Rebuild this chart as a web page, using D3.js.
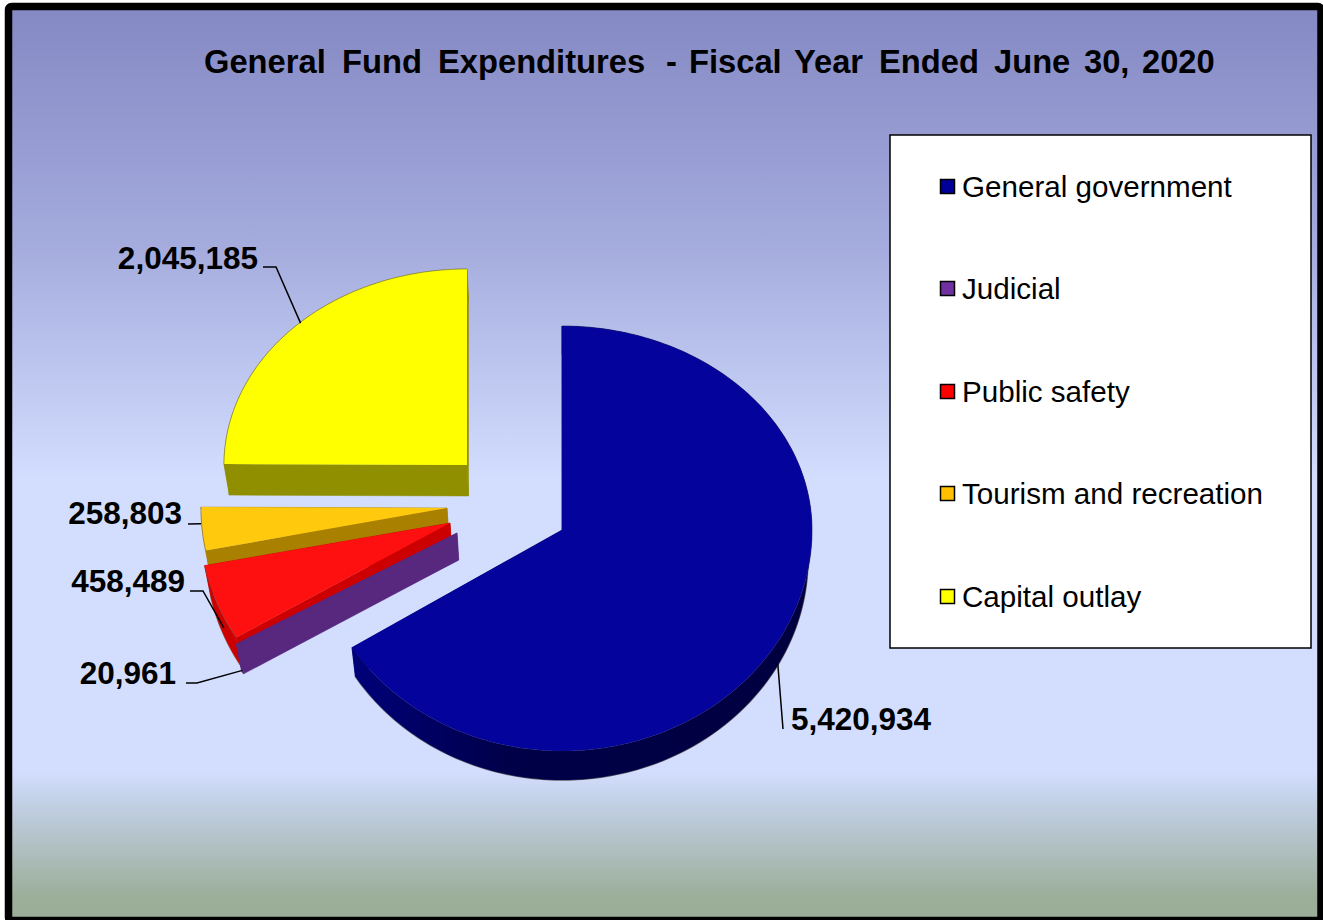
<!DOCTYPE html>
<html><head><meta charset="utf-8">
<script src="https://cdn.jsdelivr.net/npm/d3@7/dist/d3.min.js"></script>
<style>html,body{margin:0;padding:0;background:#fff;overflow:hidden}svg{display:block}text{font-family:"Liberation Sans",Arial,sans-serif;fill:#000}</style>
</head><body><svg id="c" width="1323" height="920"></svg>
<script>
// ---- data ----
const categories = ["General government","Judicial","Public safety","Tourism and recreation","Capital outlay"];
const values = [5420934,20961,458489,258803,2045185];
const titleWords = ["General","Fund","Expenditures","-","Fiscal","Year","Ended","June","30,","2020"];
// ---- styles ----
const topColors = ["#04049c","#57277f","#ff1010","#ffc90e","#ffff00"];
const sideColors = ["url(#sideBlue)","#58287f","#cc0000","#a98000","#8f8f00"];
const swatchColors = ["#000099","#7030a0","#ff0000","#ffc000","#ffff00"];
// ---- layout: exploded apex and radii of each slice ----
const titleX = [204,342,438,666,689,794,879,994,1084,1142];
const apexX = [562,457,450,447,467];
const apexY = [530,533,523,508,465];
const radX  = [248,258,250,246,243];
const radXRight = 250;
const radFar = [204,204,204,204,196];
const radNear = [221,214,221,221,221];
const depth = [29,27,29,29,31];
const vanishX = 562, vanishK = 0.016;
const drawOrder = [4,3,2,1,0];
const legendY = [187,289,392,494,597];
const labelX = [791,176,185,182,258];
const labelY = [730,684,592,524,269];
const labelAnchor = ["start","end","end","end","end"];
const leaderKnee = [[783,729],[186,683,197,683],[190,591,203,591],[188,524],[263,267,276,267]];
const leaderShift = [[-3,27],[5,25],[7,25],[-1,-5],[5,-3]];

const svg = d3.select("#c");
const defs = svg.append("defs");
const bg = defs.append("linearGradient").attr("id","bg").attr("gradientUnits","userSpaceOnUse")
  .attr("x1",0).attr("x2",0).attr("y1",10).attr("y2",917);
[[0,"#8589c4"],[.25,"#a3aadc"],[.52,"#d3deff"],[.84,"#d3deff"],[.87,"#c4d1e8"],[.98,"#9aae98"],[1,"#9aae98"]]
  .forEach(s=>bg.append("stop").attr("offset",s[0]).attr("stop-color",s[1]));
const sb = defs.append("linearGradient").attr("id","sideBlue").attr("gradientUnits","userSpaceOnUse")
  .attr("x1",350).attr("x2",815).attr("y1",0).attr("y2",0);
[[0,"#00007a"],[.35,"#000048"],[1,"#000040"]].forEach(s=>sb.append("stop").attr("offset",s[0]).attr("stop-color",s[1]));

// frame
svg.append("rect").attr("x",8.5).attr("y",6.5).attr("width",1312.5).attr("height",914)
  .attr("rx",3).attr("fill","url(#bg)").attr("stroke","#000").attr("stroke-width",7.5);

// title
svg.append("text").attr("y",73).attr("font-size",32.7).attr("font-weight","bold")
  .selectAll("tspan").data(titleWords).join("tspan").attr("x",(d,i)=>titleX[i]).text((d,i)=>i<titleWords.length-1?d+" ":d);

// pie
const arcs = d3.pie().sort(null).value(d=>d)(values);
function project(i,a){
  const c=Math.cos(a), s=Math.sin(a);
  return [apexX[i]+(s>0?radXRight:radX[i])*s, apexY[i]-(c>0?radFar[i]:radNear[i])*c];
}
const drop = (p,i) => [p[0]+(vanishX-p[0])*vanishK, p[1]+depth[i]];
const line = d3.line();
function rim(i){
  const d=arcs[i], n=Math.max(3,Math.ceil((d.endAngle-d.startAngle)/0.02));
  return d3.range(n+1).map(k=>project(i,d.startAngle+(d.endAngle-d.startAngle)*k/n));
}
const pieG = svg.append("g");
const sl = pieG.selectAll("g").data(drawOrder).join("g");
sl.each(function(i){
  const g=d3.select(this), r=rim(i), apex=[apexX[i],apexY[i]], outline=[apex,...r,apex];
  const first=r[0], last=r[r.length-1], lower=r.map(p=>drop(p,i));
  const walls=[
    [...r,...lower.slice().reverse(),r[0]],
    [apex,first,drop(first,i),drop(apex,i),apex],
    [apex,last,drop(last,i),drop(apex,i),apex]
  ];
  g.append("path").attr("d",line(lower)).attr("fill","none").attr("stroke","#8d8d80").attr("stroke-width",1.6);
  g.selectAll("path.q").data(walls).join("path").attr("class","q").attr("d",line)
    .attr("fill",sideColors[i]).attr("stroke",sideColors[i]).attr("stroke-width",.5);
  g.append("path").attr("d",line(outline)+"Z").attr("fill",topColors[i]);
  g.append("path").attr("d",line(r)).attr("fill","none").attr("stroke","#555").attr("stroke-opacity",i===0?0.15:0.55).attr("stroke-width",.8);
});

// leaders and labels
const fmt = d3.format(",");
arcs.forEach((d,i)=>{
  const p=project(i,(d.startAngle+d.endAngle)/2), k=leaderKnee[i], pts=[];
  for(let j=0;j<k.length;j+=2) pts.push([k[j],k[j+1]]);
  pts.push([p[0]+leaderShift[i][0],p[1]+leaderShift[i][1]]);
  svg.append("path").attr("d",line(pts)).attr("fill","none").attr("stroke","#000").attr("stroke-width",1.5);
  svg.append("text").attr("x",labelX[i]).attr("y",labelY[i]).attr("text-anchor",labelAnchor[i])
    .attr("font-size",31.5).attr("font-weight","bold").text(fmt(d.value));
});

// legend
svg.append("rect").attr("x",890).attr("y",135).attr("width",421).attr("height",513)
  .attr("fill","#fff").attr("stroke","#000").attr("stroke-width",1.5);
const lg = svg.selectAll("g.lg").data(categories).join("g").attr("class","lg");
lg.append("rect").attr("x",940.5).attr("y",(d,i)=>legendY[i]-7.5).attr("width",14).attr("height",14)
  .attr("fill",(d,i)=>swatchColors[i]).attr("stroke","#000").attr("stroke-width",1.5);
lg.append("text").attr("x",962).attr("y",(d,i)=>legendY[i]+10).attr("font-size",29.6).text(d=>d);
</script></body></html>
